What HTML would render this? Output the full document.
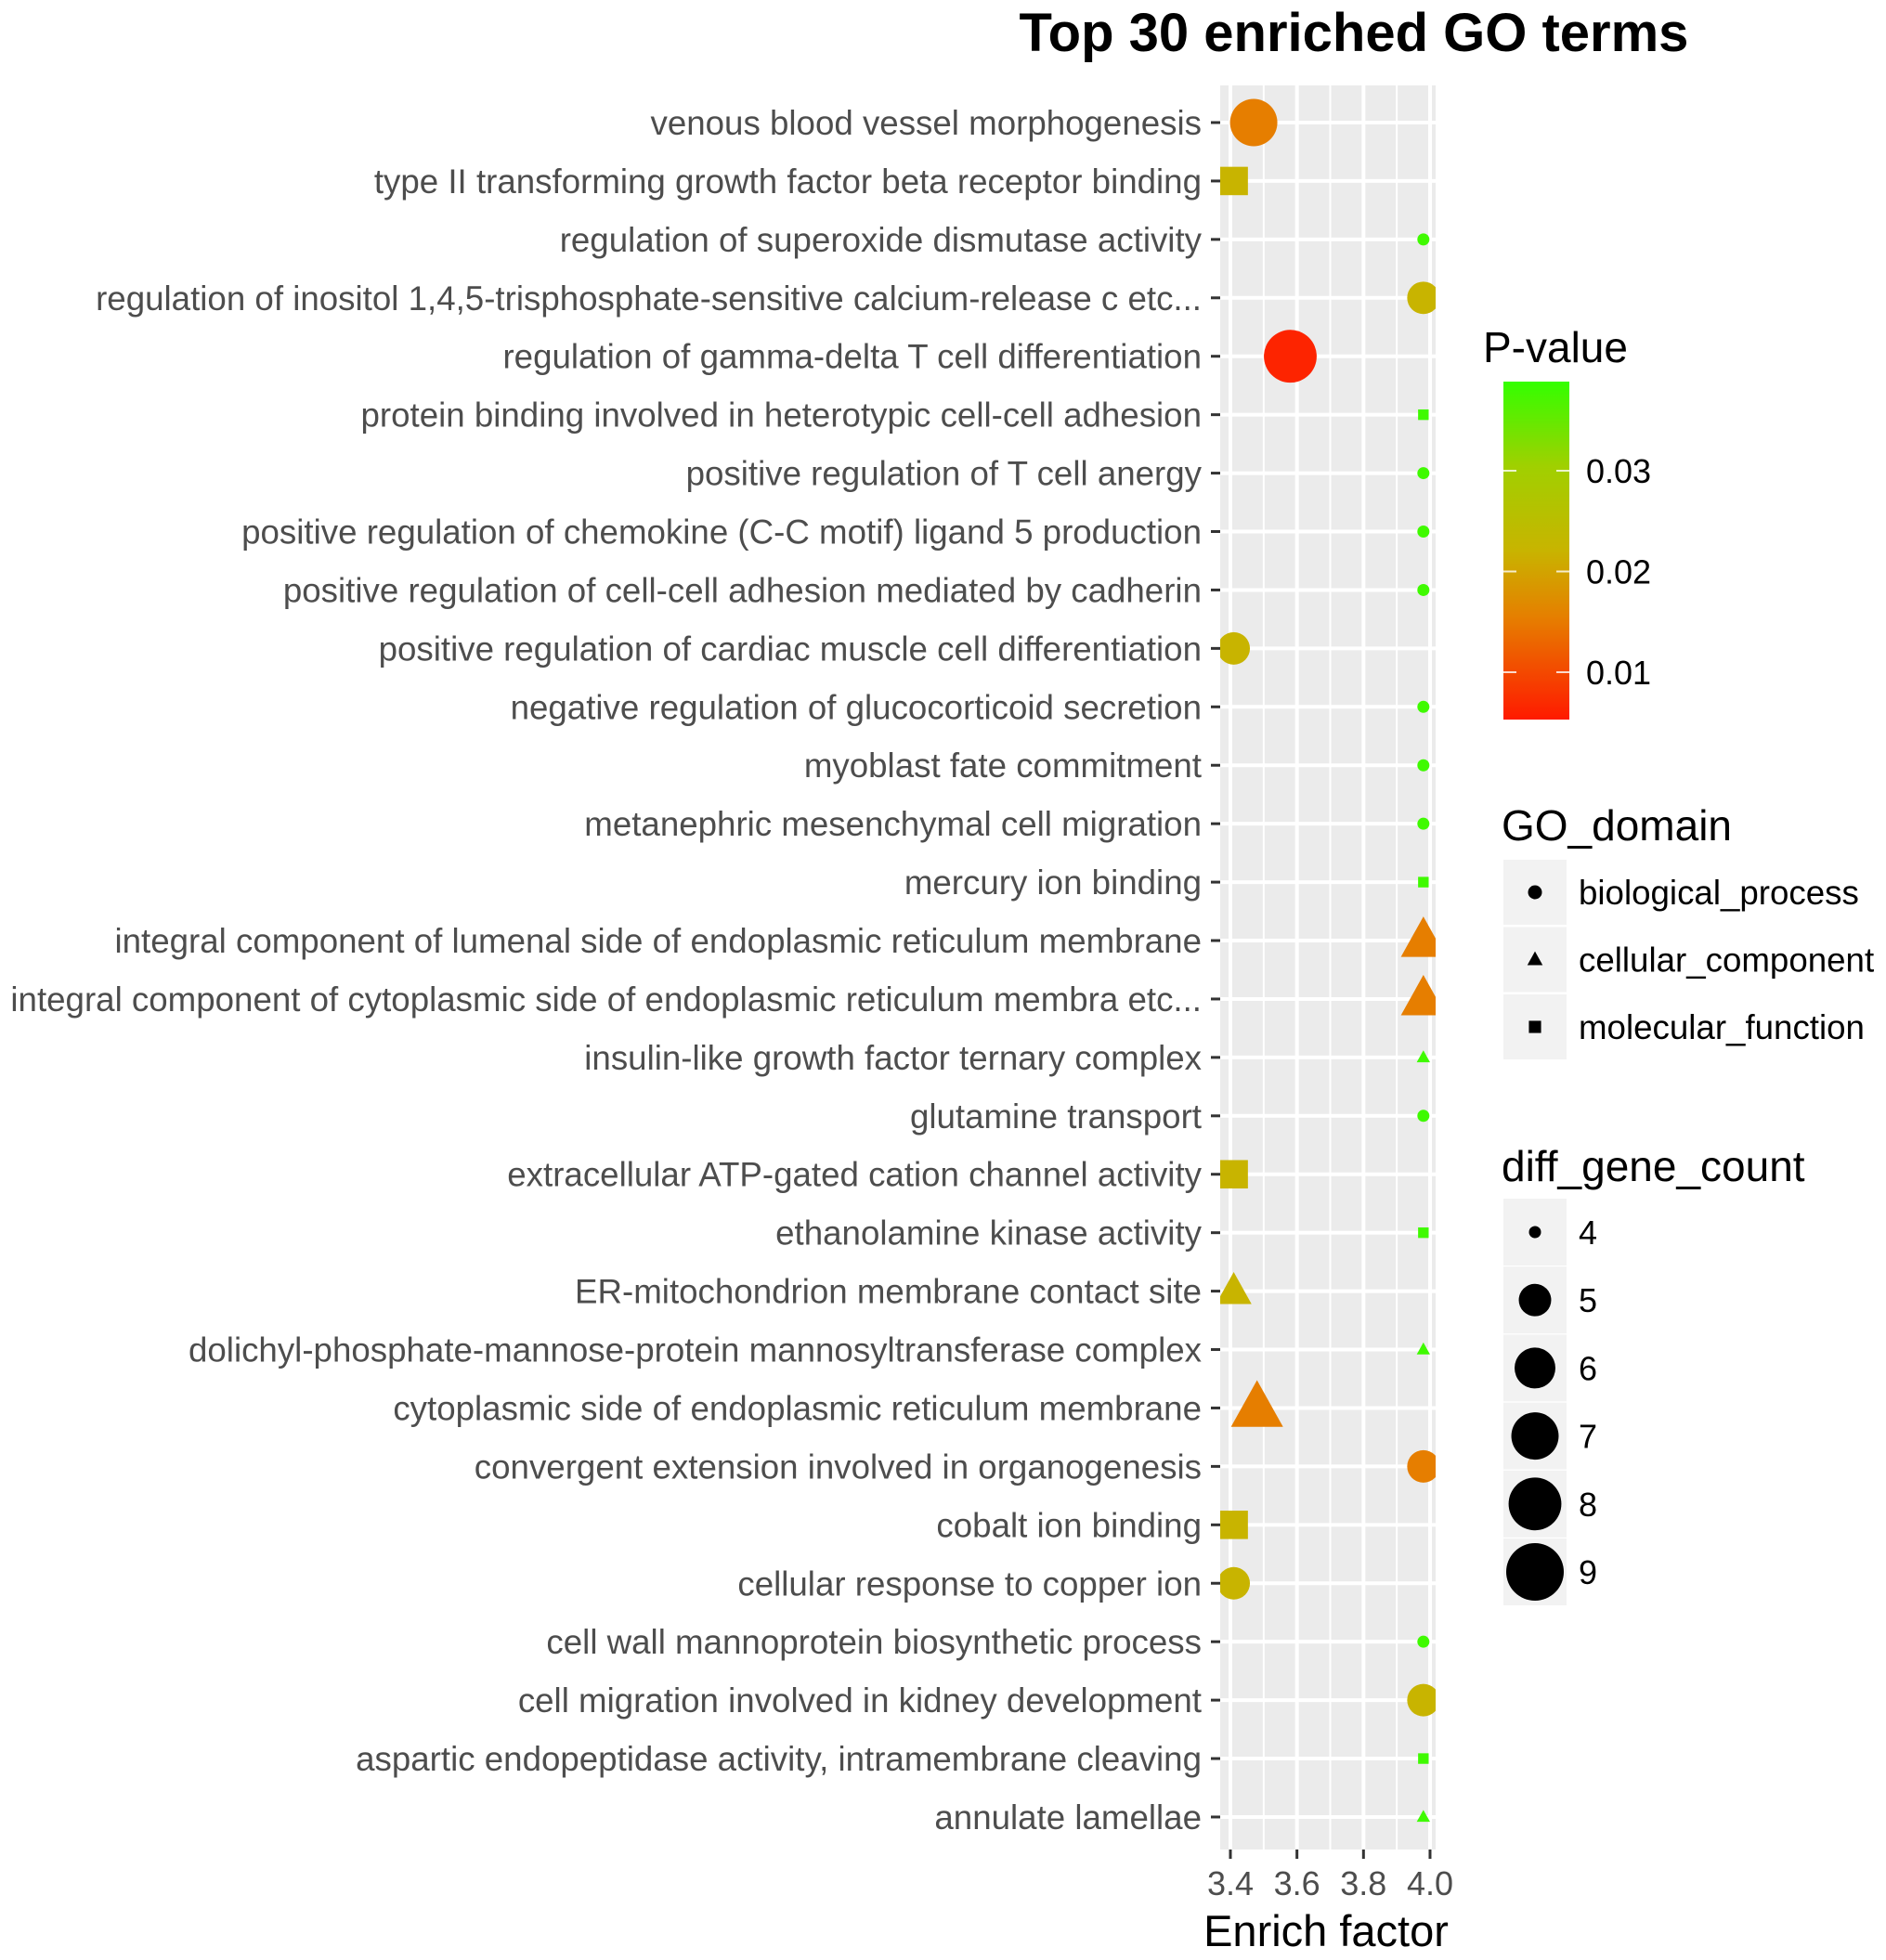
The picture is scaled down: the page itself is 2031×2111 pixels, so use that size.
<!DOCTYPE html>
<html><head><meta charset="utf-8"><style>
html,body{margin:0;padding:0;background:#fff;}
svg{display:block;font-family:"Liberation Sans",sans-serif;}
</style></head><body>
<svg id="chart" width="2031" height="2111" viewBox="0 0 2031 2111" xmlns="http://www.w3.org/2000/svg">
<defs><clipPath id="panelClip"><rect x="1314" y="92" width="232" height="1900"/></clipPath>
<linearGradient id="pgrad" x1="0" y1="1" x2="0" y2="0">
<stop offset="0" stop-color="#ff1a00"/><stop offset="0.3" stop-color="#e67e00"/><stop offset="0.5" stop-color="#c8b400"/><stop offset="0.75" stop-color="#a0d000"/><stop offset="1" stop-color="#33ff00"/>
</linearGradient></defs>
<text x="1458" y="55" text-anchor="middle" font-size="58" font-weight="bold" fill="#000">Top 30 enriched GO terms</text>
<rect x="1314" y="92" width="232" height="1900" fill="#ebebeb"/>
<g id="grid"></g>
<g id="marks" clip-path="url(#panelClip)"></g>
<g id="ylabels"></g>
<g id="xaxis"></g>
<text x="1428" y="2096" text-anchor="middle" font-size="47" fill="#000">Enrich factor</text>
<g>
<text x="1597" y="390" font-size="46" fill="#000">P-value</text>
<rect x="1619" y="411" width="71" height="364" fill="url(#pgrad)"/>
<g id="cbticks"></g>
</g>
<g>
<text x="1617" y="905" font-size="46" fill="#000">GO_domain</text>
<g id="domainLegend"></g>
</g>
<g>
<text x="1617" y="1272" font-size="46" fill="#000">diff_gene_count</text>
<g id="sizeLegend"></g>
</g>
</svg>
<script>
const terms = ["venous blood vessel morphogenesis","type II transforming growth factor beta receptor binding","regulation of superoxide dismutase activity","regulation of inositol 1,4,5-trisphosphate-sensitive calcium-release c etc...","regulation of gamma-delta T cell differentiation","protein binding involved in heterotypic cell-cell adhesion","positive regulation of T cell anergy","positive regulation of chemokine (C-C motif) ligand 5 production","positive regulation of cell-cell adhesion mediated by cadherin","positive regulation of cardiac muscle cell differentiation","negative regulation of glucocorticoid secretion","myoblast fate commitment","metanephric mesenchymal cell migration","mercury ion binding","integral component of lumenal side of endoplasmic reticulum membrane","integral component of cytoplasmic side of endoplasmic reticulum membra etc...","insulin-like growth factor ternary complex","glutamine transport","extracellular ATP-gated cation channel activity","ethanolamine kinase activity","ER-mitochondrion membrane contact site","dolichyl-phosphate-mannose-protein mannosyltransferase complex","cytoplasmic side of endoplasmic reticulum membrane","convergent extension involved in organogenesis","cobalt ion binding","cellular response to copper ion","cell wall mannoprotein biosynthetic process","cell migration involved in kidney development","aspartic endopeptidase activity, intramembrane cleaving","annulate lamellae"];
const enrich = [3.47,3.41,3.98,3.98,3.58,3.98,3.98,3.98,3.98,3.41,3.98,3.98,3.98,3.98,3.98,3.98,3.98,3.98,3.41,3.98,3.41,3.98,3.48,3.98,3.41,3.41,3.98,3.98,3.98,3.98];
const counts = [7,5,4,5,8,4,4,4,4,5,4,4,4,4,6,6,4,4,5,4,5,4,7,5,5,5,4,5,4,4];
const pvals = [0.015,0.022,0.038,0.022,0.006,0.038,0.038,0.038,0.038,0.022,0.038,0.038,0.038,0.038,0.015,0.015,0.038,0.038,0.022,0.038,0.022,0.038,0.015,0.015,0.022,0.022,0.038,0.022,0.038,0.038];
const domains = ["bp","mf","bp","bp","bp","mf","bp","bp","bp","bp","bp","bp","bp","mf","cc","cc","cc","bp","mf","mf","cc","cc","cc","bp","mf","bp","bp","bp","mf","cc"];
const xTicks = [3.4,3.6,3.8,4.0];
const xMinor = [3.5,3.7,3.9];
const pTicks = [0.01,0.02,0.03];
const sizeKeys = [4,5,6,7,8,9];
const domainKeys = ["biological_process","cellular_component","molecular_function"];

const NS="http://www.w3.org/2000/svg";
function mk(tag,attrs,parent){const e=document.createElementNS(NS,tag);for(const k in attrs)e.setAttribute(k,attrs[k]);parent.appendChild(e);return e;}
const xs = v => 1325 + (v-3.4)*358.3;
const ys = i => 132 + i*62.93;
const rs = n => 6.5 + 24.5*Math.sqrt(Math.max(0,(n-4))/5);
const pY = p => 507 - (p-0.03)*10850;
const stops=[[0.005,[255,26,0]],[0.015,[230,126,0]],[0.022,[200,180,0]],[0.03,[160,208,0]],[0.039,[51,255,0]]];
function pcol(p){if(p<=stops[0][0])return "rgb("+stops[0][1]+")";for(let i=1;i<stops.length;i++){if(p<=stops[i][0]){const t=(p-stops[i-1][0])/(stops[i][0]-stops[i-1][0]);const c=stops[i-1][1].map((a,j)=>Math.round(a+(stops[i][1][j]-a)*t));return "rgb("+c+")";}}return "rgb("+stops[stops.length-1][1]+")";}
function shape(dom,cx,cy,r,fill,parent){
  let e;
  if(dom==="bp"||dom==="biological_process") e=mk("circle",{cx:cx,cy:cy,r:r,fill:fill},parent);
  else if(dom==="mf"||dom==="molecular_function"){const s=r*1.75;e=mk("rect",{x:cx-s/2,y:cy-s/2,width:s,height:s,fill:fill},parent);}
  else {const h=r*1.9,w=r*2.2;e=mk("polygon",{points:`${cx},${cy-h*0.62} ${cx-w/2},${cy+h*0.42} ${cx+w/2},${cy+h*0.42}`,fill:fill},parent);}
  return e;
}
const grid=document.getElementById("grid");
xMinor.forEach(v=>{const l=mk("line",{x1:xs(v),x2:xs(v),y1:92,y2:1992,stroke:"#fff","stroke-width":2},grid);

});
xTicks.forEach(v=>{const l=mk("line",{x1:xs(v),x2:xs(v),y1:92,y2:1992,stroke:"#fff","stroke-width":4},grid);

});
terms.forEach((t,i)=>{const l=mk("line",{x1:1314,x2:1546,y1:ys(i),y2:ys(i),stroke:"#fff","stroke-width":4},grid);

});
const yl=document.getElementById("ylabels");
terms.forEach((t,i)=>{
  const tx=mk("text",{x:1294,y:ys(i)+13,"text-anchor":"end","font-size":36.7,fill:"#4d4d4d"},yl);tx.textContent=t;
  
  
  const tk=mk("line",{x1:1304,x2:1314,y1:ys(i),y2:ys(i),stroke:"#333","stroke-width":3},yl);
  
  
});
const xa=document.getElementById("xaxis");
xTicks.forEach(v=>{
  const tk=mk("line",{x1:xs(v),x2:xs(v),y1:1992,y2:2002,stroke:"#333","stroke-width":3},xa);
  
  
  const tx=mk("text",{x:xs(v),y:2041,"text-anchor":"middle","font-size":36,fill:"#4d4d4d"},xa);tx.textContent=v.toFixed(1);
  
  
});
const mg=document.getElementById("marks");
terms.forEach((t,i)=>{
  const e=shape(domains[i],xs(enrich[i]),ys(i),rs(counts[i]),pcol(pvals[i]),mg);
  
  
});
const cb=document.getElementById("cbticks");
pTicks.forEach(p=>{
  const a=mk("line",{x1:1619,x2:1633,y1:pY(p),y2:pY(p),stroke:"#fff","stroke-width":2,opacity:0.8},cb);
  
  
  const b=mk("line",{x1:1676,x2:1690,y1:pY(p),y2:pY(p),stroke:"#fff","stroke-width":2,opacity:0.8},cb);
  
  
  const tx=mk("text",{x:1708,y:pY(p)+13,"font-size":36,fill:"#000"},cb);tx.textContent=p.toFixed(2);
  
  
});
const dl=document.getElementById("domainLegend");
domainKeys.forEach((d,i)=>{
  const cy=961+i*72.5;
  const bg=mk("rect",{x:1619,y:cy-35,width:68,height:70,fill:"#f2f2f2"},dl);
  
  
  const s=shape(d,1653,cy,7.5,"#000",dl);
  
  
  const tx=mk("text",{x:1700,y:cy+13,"font-size":36.7,fill:"#000"},dl);tx.textContent=d;
  
  
});
const sl=document.getElementById("sizeLegend");
sizeKeys.forEach((n,i)=>{
  const cy=1327+i*73.2;
  const bg=mk("rect",{x:1619,y:cy-36,width:68,height:72,fill:"#f2f2f2"},sl);
  
  
  const c=mk("circle",{cx:1653,cy:cy,r:rs(n),fill:"#000"},sl);
  
  
  const tx=mk("text",{x:1700,y:cy+13,"font-size":36,fill:"#000"},sl);tx.textContent=n;
  
  
});
</script>
</body></html>
